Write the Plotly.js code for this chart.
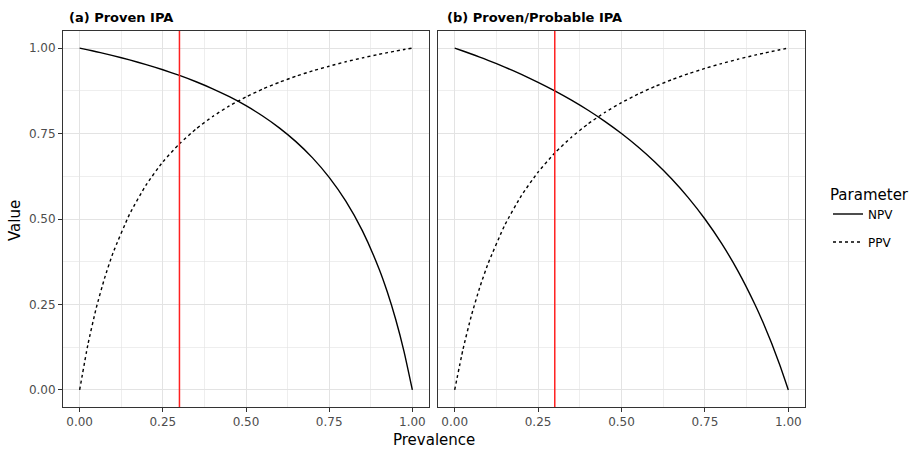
<!DOCTYPE html>
<html>
<head>
<meta charset="utf-8">
<script src="https://cdn.plot.ly/plotly-3.0.1.min.js"></script>
<style>html,body{margin:0;padding:0;background:#fff;}#chart{width:915px;height:450px;}</style>
</head>
<body>
<div id="chart"></div>
<script>
// Prevalence values (x)
const prevalence = [0, 0.025, 0.05, 0.075, 0.1, 0.15, 0.2, 0.25, 0.3, 0.35, 0.4, 0.45, 0.5, 0.55, 0.6, 0.65, 0.7, 0.75, 0.8, 0.85, 0.9, 0.925, 0.95, 0.975, 1];
// (a) Proven IPA
const npvA = [1, 0.9948, 0.9894, 0.9838, 0.978, 0.9654, 0.9517, 0.9367, 0.920, 0.9015, 0.8809, 0.8577, 0.8314, 0.8013, 0.7667, 0.7264, 0.6788, 0.6217, 0.5521, 0.4652, 0.3539, 0.2856, 0.2060, 0.1122, 0];
const ppvA = [0, 0.1333, 0.24, 0.327, 0.4, 0.514, 0.6, 0.667, 0.72, 0.7636, 0.8, 0.8308, 0.857, 0.88, 0.9, 0.9176, 0.9333, 0.947, 0.96, 0.9714, 0.9818, 0.9867, 0.9913, 0.9957, 1];
// (b) Proven/Probable IPA
const npvB = [1, 0.9915, 0.9828, 0.9737, 0.9643, 0.9444, 0.9231, 0.9, 0.875, 0.8478, 0.8182, 0.7857, 0.75, 0.7105, 0.6667, 0.6176, 0.5625, 0.5, 0.4286, 0.3462, 0.25, 0.1957, 0.1364, 0.0714, 0];
const ppvB = [0, 0.119, 0.2171, 0.2994, 0.3693, 0.4819, 0.5685, 0.6372, 0.6931, 0.7394, 0.7784, 0.8117, 0.8405, 0.8656, 0.8877, 0.9073, 0.9248, 0.9405, 0.9547, 0.9676, 0.9794, 0.9848, 0.9901, 0.9952, 1];
const cutoff = 0.3;
const panelTitles = ["(a) Proven IPA", "(b) Proven/Probable IPA"];
const seriesNames = ["NPV", "PPV"];
const tickVals = [0, 0.25, 0.5, 0.75, 1];
const tickText = ["0.00", "0.25", "0.50", "0.75", "1.00"];
const minorVals = [0.125, 0.375, 0.625, 0.875];

const FONT = "DejaVu Sans, Liberation Sans, Arial, sans-serif";
const lineW = 1.4;

function curve(x, y, name, dash, xa, ya, show) {
  return {
    x: x, y: y, name: name, type: "scatter", mode: "lines",
    line: {color: "#000000", width: lineW, dash: dash, shape: "spline", smoothing: 0.5},
    xaxis: xa, yaxis: ya, legendgroup: name, showlegend: show, hoverinfo: "x+y+name"
  };
}

const traces = [
  curve(prevalence, npvA, seriesNames[0], "solid", "x", "y", true),
  curve(prevalence, ppvA, seriesNames[1], "dot", "x", "y", true),
  curve(prevalence, npvB, seriesNames[0], "solid", "x2", "y2", false),
  curve(prevalence, ppvB, seriesNames[1], "dot", "x2", "y2", false)
];

const gridC = "#E3E3E3";
function xAxis(domain) {
  return {
    domain: domain, range: [-0.05, 1.05], autorange: false,
    tickvals: tickVals, ticktext: tickText, ticks: "outside", ticklen: 4, tickwidth: 1, tickcolor: "#333333",
    tickfont: {family: FONT, size: 12, color: "#4D4D4D"},
    showgrid: true, gridcolor: gridC, gridwidth: 1, zeroline: false,
    minor: {tickvals: minorVals, showgrid: true, gridcolor: gridC, gridwidth: 0.6, ticks: ""},
    showline: true, mirror: true, linecolor: "#333333", linewidth: 1, fixedrange: true
  };
}
function yAxis(showLabels, anchor) {
  return {
    domain: [1 - 407/450, 1 - 31/450], range: [-0.05, 1.05], autorange: false, anchor: anchor,
    tickvals: tickVals, ticktext: tickText, ticks: showLabels ? "outside" : "", ticklen: 4, tickwidth: 1, tickcolor: "#333333",
    showticklabels: showLabels,
    tickfont: {family: FONT, size: 12, color: "#4D4D4D"},
    showgrid: true, gridcolor: gridC, gridwidth: 1, zeroline: false,
    minor: {tickvals: minorVals, showgrid: true, gridcolor: gridC, gridwidth: 0.6, ticks: ""},
    showline: true, mirror: true, linecolor: "#333333", linewidth: 1, fixedrange: true
  };
}

const layout = {
  width: 915, height: 450,
  margin: {l: 0, r: 0, t: 0, b: 0},
  paper_bgcolor: "#FFFFFF", plot_bgcolor: "#FFFFFF",
  font: {family: FONT, color: "#000000"},
  xaxis: Object.assign(xAxis([63/915, 429/915]), {anchor: "y"}),
  xaxis2: Object.assign(xAxis([438/915, 805/915]), {anchor: "y2"}),
  yaxis: yAxis(true, "x"),
  yaxis2: yAxis(false, "x2"),
  shapes: [
    {type: "line", xref: "x", yref: "y domain", x0: cutoff, x1: cutoff, y0: 0, y1: 1, line: {color: "#FF2020", width: 1.5}},
    {type: "line", xref: "x2", yref: "y2 domain", x0: cutoff, x1: cutoff, y0: 0, y1: 1, line: {color: "#FF2020", width: 1.5}}
  ],
  annotations: [
    {text: "<b>" + panelTitles[0] + "</b>", xref: "paper", yref: "paper", x: 67/915, y: 1 - 17/450, xanchor: "left", yanchor: "middle", showarrow: false, font: {family: FONT, size: 13, color: "#000"}},
    {text: "<b>" + panelTitles[1] + "</b>", xref: "paper", yref: "paper", x: 445/915, y: 1 - 17/450, xanchor: "left", yanchor: "middle", showarrow: false, font: {family: FONT, size: 13, color: "#000"}},
    {text: "Value", xref: "paper", yref: "paper", x: 15/915, y: 1 - 221/450, xanchor: "center", yanchor: "middle", textangle: -90, showarrow: false, font: {family: FONT, size: 15, color: "#000"}},
    {text: "Prevalence", xref: "paper", yref: "paper", x: 434/915, y: 1 - 440/450, xanchor: "center", yanchor: "middle", showarrow: false, font: {family: FONT, size: 15, color: "#000"}}
  ],
  legend: {
    x: 828/915, y: 1 - 180/450, xanchor: "left", yanchor: "top",
    title: {text: "Parameter", font: {family: FONT, size: 15, color: "#000"}},
    font: {family: FONT, size: 12, color: "#000"},
    bgcolor: "rgba(0,0,0,0)", borderwidth: 0, itemwidth: 30, tracegroupgap: 9
  },
  showlegend: true
};

Plotly.newPlot("chart", traces, layout, {displayModeBar: false, staticPlot: true});
</script>
</body>
</html>
